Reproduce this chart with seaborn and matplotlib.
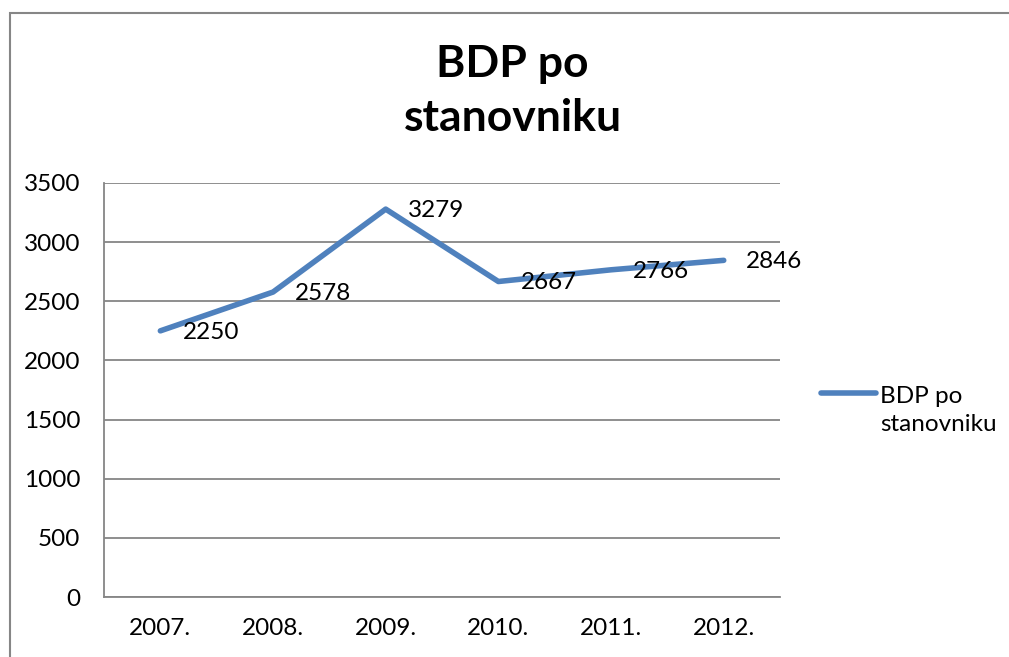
import matplotlib
matplotlib.use("Agg")
import matplotlib.pyplot as plt
from matplotlib.patches import Rectangle
from matplotlib.legend_handler import HandlerLine2D
import pandas as pd
import seaborn as sns

years = ["2007.", "2008.", "2009.", "2010.", "2011.", "2012."]
gdp = [2250, 2578, 3279, 2667, 2766, 2846]
series_name = "BDP po\nstanovniku"
title = "BDP po\nstanovniku"

BLUE = "#4F81BD"
GRID = "#868686"


class FirstLineHandler(HandlerLine2D):
    # put the legend line next to the first text line, like Excel does
    def create_artists(self, legend, orig_handle, xdescent, ydescent,
                       width, height, fontsize, trans):
        arts = super().create_artists(legend, orig_handle, xdescent, ydescent,
                                      width, height, fontsize, trans)
        for a in arts:
            a.set_ydata(a.get_ydata() + 0.72 * fontsize)
        return arts


sns.set_theme(style="white")
plt.rcParams["font.family"] = ["Lato", "DejaVu Sans"]
plt.rcParams["text.color"] = "black"

df = pd.DataFrame({"year": years, "value": gdp})

fig = plt.figure(figsize=(10.09, 6.57), dpi=100)
ax = fig.add_axes([0.1031, 0.0913, 0.6700, 0.6302])

sns.lineplot(data=df, x="year", y="value", color=BLUE, linewidth=4.0,
             label=series_name, ax=ax, solid_capstyle="round")

for i, v in enumerate(gdp):
    ax.annotate(str(v), (i, v), xytext=(16, -1), textcoords="offset points",
                ha="left", va="center", fontsize=17.5, color="black")

ax.set_xlim(-0.5, len(years) - 0.5)
ax.set_ylim(0, 3500)
ax.set_yticks(range(0, 3501, 500))
ax.yaxis.grid(True, color=GRID, linewidth=1.3)
ax.set_axisbelow(True)
ax.tick_params(axis="both", length=0, labelsize=17.5, colors="black")
ax.tick_params(axis="y", pad=17)
ax.tick_params(axis="x", pad=15)
ax.set_xlabel("")
ax.set_ylabel("")
for side in ["top", "right"]:
    ax.spines[side].set_visible(False)
for side in ["left", "bottom"]:
    ax.spines[side].set_color(GRID)
    ax.spines[side].set_linewidth(1.3)

leg = ax.legend(loc="center left", bbox_to_anchor=(1.028, 0.45), frameon=False,
                fontsize=17.5, handlelength=2.25, handletextpad=0.2,
                labelspacing=0, handler_map={plt.Line2D: FirstLineHandler()})
for t in leg.get_texts():
    t.set_linespacing(1.4)

fig.text(0.508, 0.862, title, ha="center", va="center", fontsize=32,
         fontweight="bold", linespacing=1.43)

fig.add_artist(Rectangle((10 / 1009, -0.05), 1.1, 1 - 13 / 657 + 0.05,
                         transform=fig.transFigure, fill=False,
                         edgecolor=GRID, linewidth=1.5))

fig.savefig("out.png", dpi=100)
